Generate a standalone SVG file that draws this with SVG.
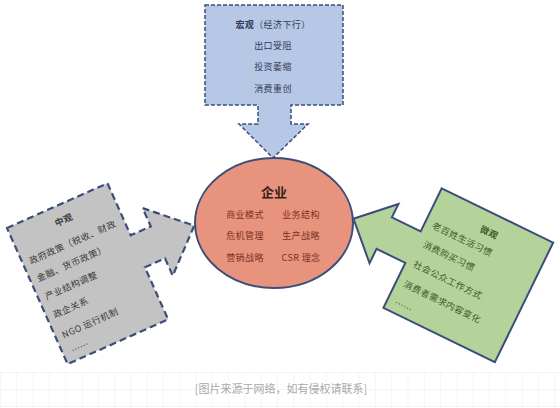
<svg xmlns="http://www.w3.org/2000/svg" width="560" height="408" viewBox="0 0 560 408">
<defs>
<pattern id="grid" width="16.3" height="17" patternUnits="userSpaceOnUse" x="0" y="372">
<path d="M0,0 H16.3 M0,0 V17" fill="none" stroke="#ececec" stroke-width="1"/>
</pattern>
</defs>
<style>
text{font-family:"Noto Sans CJK SC","Noto Sans",sans-serif;}
.t{font-size:9px;letter-spacing:0.4px;}
.b{font-weight:bold;}
.blue{fill:#b7c8e6;stroke:#3d4d7a;stroke-width:1.5;stroke-dasharray:4 2;}
.gray{fill:#c3c3c3;stroke:#3d4d7a;stroke-width:2.2;stroke-dasharray:7 4;}
.green{fill:#b3d39a;stroke:#3d4d7a;stroke-width:2;}
.ell{fill:#e8937d;stroke:#3d4d7a;stroke-width:2;}
.tb{fill:#2f3b55;}
.tr{fill:#7a3224;}
.tg{fill:#3a3a3a;}
.tn{fill:#3b5a2a;}
</style>
<rect width="560" height="408" fill="#ffffff"/>
<rect x="0" y="372" width="560" height="36" fill="url(#grid)"/>

<g id="macro">
<path class="blue" d="M205,5 H343 V105 H291 V124 H308 L273,158 L239,124 H258 V105 H205 Z"/>
<text class="t tb" x="273" y="28" text-anchor="middle"><tspan class="b">宏观</tspan>（经济下行）</text>
<text class="t tb" x="273" y="49" text-anchor="middle">出口受阻</text>
<text class="t tb" x="273" y="70" text-anchor="middle">投资萎缩</text>
<text class="t tb" x="273" y="92" text-anchor="middle">消费重创</text>
</g>

<g id="meso" transform="translate(7,228) rotate(-24)">
<path class="gray" d="M0,0 H110 V57 H132 V37 L172,74 L132,111 V92 H110 V149 H0 Z"/>
<text class="t tg b" x="55" y="19" text-anchor="middle">中观</text>
<text class="t tg" x="7" y="43">政府政策（税收、财政</text>
<text class="t tg" x="7" y="62">金融、货币政策）</text>
<text class="t tg" x="7" y="82">产业结构调整</text>
<text class="t tg" x="7" y="102">政企关系</text>
<text class="t tg" x="7" y="124">NGO 运行机制</text>
<text class="t tg" x="9" y="142">……</text>
</g>

<g id="micro" transform="translate(441.7,188.3) rotate(26)">
<path class="green" d="M0,0 H124 V133 H0 V83 H-32 V99 L-66,66 L-32,33 V48 H0 Z"/>
<text class="t tn b" x="62" y="22" text-anchor="middle">微观</text>
<text class="t tn" x="8" y="40">老百姓生活习惯</text>
<text class="t tn" x="8" y="61">消费购买习惯</text>
<text class="t tn" x="8" y="83">社会公众工作方式</text>
<text class="t tn" x="8" y="105">消费者需求内容变化</text>
<text class="t tn" x="8" y="126">……</text>
</g>

<g id="enterprise">
<ellipse class="ell" cx="274" cy="223" rx="79" ry="65"/>
<text x="274" y="197" text-anchor="middle" font-size="13" font-weight="bold" fill="#3a1e18">企业</text>
<text class="t tr" x="245" y="218" text-anchor="middle">商业模式</text>
<text class="t tr" x="301" y="218" text-anchor="middle">业务结构</text>
<text class="t tr" x="245" y="239" text-anchor="middle">危机管理</text>
<text class="t tr" x="301" y="239" text-anchor="middle">生产战略</text>
<text class="t tr" x="245" y="261" text-anchor="middle">营销战略</text>
<text class="t tr" x="301" y="261" text-anchor="middle">CSR 理念</text>
</g>

<g id="connectors"></g>

<text x="281" y="393" text-anchor="middle" font-size="11" fill="#a8a8a8">[图片来源于网络，如有侵权请联系]</text>
</svg>
